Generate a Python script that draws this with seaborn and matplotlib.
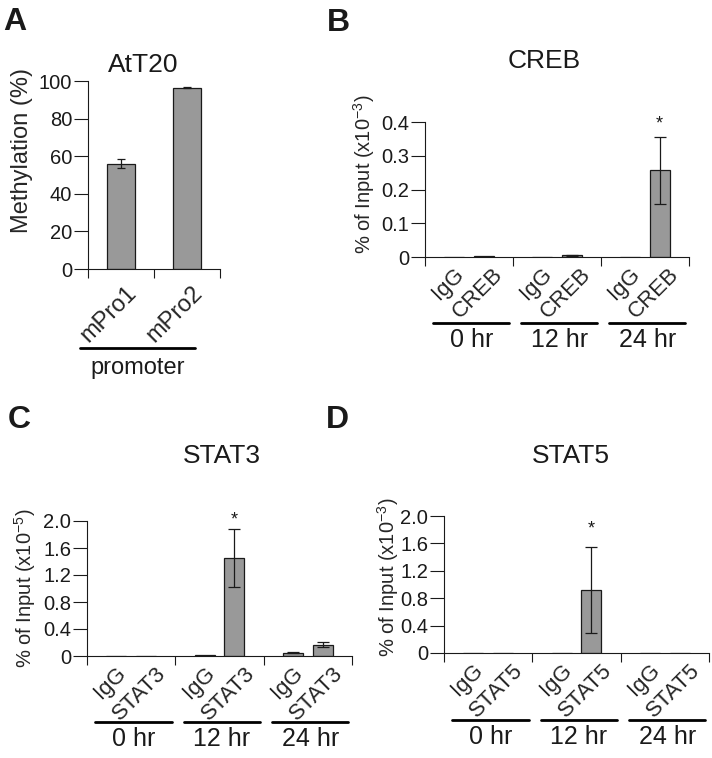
"""Methylation and ChIP enrichment panels (A-D)."""

import matplotlib
matplotlib.use('Agg')
import matplotlib.pyplot as plt
import matplotlib.transforms as mtransforms
import numpy as np
import pandas as pd
import seaborn as sns

# panel A: promoter methylation in AtT20 cells
promoters = ['mPro1', 'mPro2']
methylation = [56.0, 96.5]
methylation_err = [2.5, 0.3]

# panels B-D: ChIP, % of input per time point
timepoints = ['0 hr', '12 hr', '24 hr']

creb_igg = [0.0005, 0.001, 0.001]
creb_ab = [0.002, 0.005, 0.257]
creb_igg_err = [0.0, 0.0, 0.0]
creb_ab_err = [0.0, 0.002, 0.1]

stat3_igg = [0.005, 0.01, 0.05]
stat3_ab = [0.004, 1.45, 0.17]
stat3_igg_err = [0.0, 0.0, 0.005]
stat3_ab_err = [0.0, 0.43, 0.035]

stat5_igg = [0.005, 0.005, 0.003]
stat5_ab = [0.003, 0.92, 0.003]
stat5_igg_err = [0.0, 0.0, 0.0]
stat5_ab_err = [0.0, 0.63, 0.0]

BAR = '#999999'
INK = '#1a1a1a'
W, H = 712, 758

sns.set_style('ticks')
plt.rcParams['font.family'] = ['Liberation Sans', 'DejaVu Sans']
plt.rcParams['mathtext.fontset'] = 'custom'
plt.rcParams['mathtext.rm'] = 'Liberation Sans'
plt.rcParams['mathtext.it'] = 'Liberation Sans:italic'
plt.rcParams['axes.linewidth'] = 0.8
plt.rcParams['axes.edgecolor'] = INK
plt.rcParams['text.color'] = INK

fig = plt.figure(figsize=(W / 100, H / 100), dpi=100)


def px_axes(x0, x1, y0, y1):
    """axes from pixel box (left, right, top, bottom)"""
    return fig.add_axes([x0 / W, 1 - y1 / H, (x1 - x0) / W, (y1 - y0) / H])


def style_axes(ax, ymax, yticks, ylabels):
    sns.despine(ax=ax)
    ax.set_ylim(0, ymax)
    ax.set_yticks(yticks, ylabels)
    ax.tick_params(axis='y', length=10, width=0.8, pad=1.5, labelsize=14.5, colors=INK)
    ax.tick_params(axis='x', which='minor', length=6.5, width=0.8, direction='out', color=INK)
    ax.set_xlabel('')


def shift_labels(ax, dx, dy):
    off = mtransforms.ScaledTranslation(dx / 100, dy / 100, fig.dpi_scale_trans)
    for lbl in ax.get_xticklabels():
        lbl.set_transform(lbl.get_transform() + off)


def chip_panel(box, igg, ab, igg_err, ab_err, name, ymax, yticks, ylabels, ylabel,
               label_xy, title_px, star_dy):
    ax = px_axes(*box)
    rows = []
    for g, tp in enumerate(timepoints):
        rows.append(dict(pos=3 * g + 1, value=igg[g], err=igg_err[g], label='IgG'))
        rows.append(dict(pos=3 * g + 2, value=ab[g], err=ab_err[g], label=name))
    df = pd.DataFrame(rows)
    sns.barplot(df, x='pos', y='value', native_scale=True, width=0.68, color=BAR,
                edgecolor=INK, linewidth=0.9, errorbar=None, ax=ax)
    has_err = df['err'] > 0
    ax.errorbar(df.loc[has_err, 'pos'], df.loc[has_err, 'value'], yerr=df.loc[has_err, 'err'],
                fmt='none', ecolor=INK, elinewidth=0.9, capsize=4.5, capthick=0.9)
    ax.set_xlim(0, 9)
    style_axes(ax, ymax, yticks, ylabels)
    ax.set_xticks(df['pos'], df['label'], rotation=45, ha='center', va='top', fontsize=16)
    ax.tick_params(axis='x', which='major', length=0, pad=5)
    ax.set_xticks([0, 3, 6, 9], minor=True)
    shift_labels(ax, -6, 0)
    ax.set_ylabel(ylabel, fontsize=14.5)
    ax.yaxis.set_label_coords(*label_xy)

    # underline + time point under each group
    trans = mtransforms.blended_transform_factory(ax.transData, ax.transAxes)
    for g, tp in enumerate(timepoints):
        x0, x1 = 3 * g + 0.28, 3 * g + 2.88
        ax.plot([x0, x1], [-0.49, -0.49], color='black', lw=2, transform=trans, clip_on=False)
        ax.annotate(tp, xy=((x0 + x1) / 2, -0.49), xycoords=trans, xytext=(0, -5),
                    textcoords='offset pixels', ha='center', va='top', fontsize=18)

    # significance star over the tallest bar
    top = df['value'].idxmax()
    ax.annotate('*', xy=(df.loc[top, 'pos'], df.loc[top, 'value'] + df.loc[top, 'err']),
                xytext=(0, star_dy), textcoords='offset pixels', ha='center', va='center',
                fontsize=13)
    fig.text(title_px[0] / W, 1 - title_px[1] / H, name, ha='center', va='center', fontsize=19)
    return ax


# ---- A ----
ax = px_axes(88, 220, 81, 269)
sns.barplot(x=promoters, y=methylation, width=0.41, color=BAR, edgecolor=INK,
            linewidth=0.9, errorbar=None, ax=ax)
ax.errorbar(np.arange(len(promoters)), methylation, yerr=methylation_err, fmt='none',
            ecolor=INK, elinewidth=0.9, capsize=2.8, capthick=0.9)
ax.set_xlim(-0.5, 1.5)
style_axes(ax, 100, [0, 20, 40, 60, 80, 100], ['0', '20', '40', '60', '80', '100'])
ax.set_xticks([0, 1], promoters, rotation=45, ha='center', va='top', fontsize=17)
ax.tick_params(axis='x', which='major', length=0, pad=9)
ax.set_xticks([-0.5, 0.5, 1.5], minor=True)
shift_labels(ax, -12, 0)
ax.set_ylabel('Methylation (%)', fontsize=17)
ax.yaxis.set_label_coords(-0.42, 0.63)
trans = mtransforms.blended_transform_factory(ax.transData, ax.transAxes)
ax.plot([-0.62, 1.12], [-0.42, -0.42], color='black', lw=2, transform=trans, clip_on=False)
ax.annotate('promoter', xy=(0.25, -0.42), xycoords=trans, xytext=(0, -9),
            textcoords='offset pixels', ha='center', va='top', fontsize=17)
fig.text(143 / W, 1 - 65 / H, 'AtT20', ha='center', va='center', fontsize=19)

# ---- B-D ----
chip_panel((425, 689, 122, 257), creb_igg, creb_ab, creb_igg_err, creb_ab_err, 'CREB',
           0.4, [0, 0.1, 0.2, 0.3, 0.4], ['0', '0.1', '0.2', '0.3', '0.4'],
           r'% of Input (x10$^{-3}$)', (-0.18, 0.615), (544, 61), 13)
chip_panel((87, 352, 521, 656), stat3_igg, stat3_ab, stat3_igg_err, stat3_ab_err, 'STAT3',
           2.0, [0, 0.4, 0.8, 1.2, 1.6, 2.0], ['0', '0.4', '0.8', '1.2', '1.6', '2.0'],
           r'% of Input (x10$^{-5}$)', (-0.185, 0.5), (222, 456), 9)
chip_panel((444, 709, 516, 653), stat5_igg, stat5_ab, stat5_igg_err, stat5_ab_err, 'STAT5',
           2.0, [0, 0.4, 0.8, 1.2, 1.6, 2.0], ['0', '0.4', '0.8', '1.2', '1.6', '2.0'],
           r'% of Input (x10$^{-3}$)', (-0.162, 0.55), (571, 456), 18)

# panel letters
for letter, (lx, ly) in zip('ABCD', [(15, 22), (338, 23), (19, 420), (337, 420)]):
    fig.text(lx / W, 1 - ly / H, letter, ha='center', va='center', fontsize=23, fontweight='bold')

fig.savefig('out.png', dpi=100)
